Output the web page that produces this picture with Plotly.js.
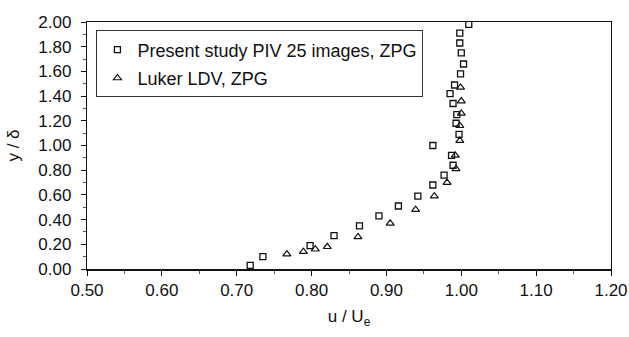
<!DOCTYPE html>
<html>
<head>
<meta charset="utf-8">
<script src="https://cdn.plot.ly/plotly-3.0.1.min.js"></script>
<style>html,body{margin:0;padding:0;background:#fff}#chart{width:629px;height:337px}</style>
</head>
<body>
<div id="chart"></div>
<script>
// Present study PIV 25 images, ZPG
const pivU = [0.718, 0.735, 0.798, 0.830, 0.864, 0.890, 0.916, 0.942, 0.962, 0.977, 0.989, 0.987, 0.962, 0.997, 0.993, 0.994, 0.989, 0.985, 0.991, 0.999, 1.003, 1.000, 0.998, 0.998, 1.010];
const pivY = [0.03, 0.10, 0.19, 0.27, 0.35, 0.43, 0.51, 0.59, 0.68, 0.76, 0.84, 0.92, 1.00, 1.09, 1.18, 1.25, 1.34, 1.42, 1.49, 1.58, 1.66, 1.75, 1.83, 1.91, 1.98];
// Luker LDV, ZPG
const lukerU = [0.767, 0.789, 0.805, 0.821, 0.862, 0.905, 0.939, 0.964, 0.981, 0.993, 0.992, 0.998, 0.998, 1.000, 1.000, 0.999];
const lukerY = [0.12, 0.14, 0.16, 0.18, 0.26, 0.37, 0.48, 0.59, 0.70, 0.81, 0.92, 1.04, 1.16, 1.26, 1.36, 1.47];

const seriesNames = ['Present study PIV 25 images, ZPG', 'Luker LDV, ZPG'];
const xTickVals = [0.5, 0.6, 0.7, 0.8, 0.9, 1.0, 1.1, 1.2];
const yTickVals = [0, 0.2, 0.4, 0.6, 0.8, 1.0, 1.2, 1.4, 1.6, 1.8, 2.0];

const font = 'Liberation Sans, Arial, sans-serif';

const traces = [
  {
    x: pivU, y: pivY, name: seriesNames[0], type: 'scatter', mode: 'markers',
    legendgroup: 'a',
    marker: {symbol: 'square-open', size: 6, color: '#111', line: {width: 1.3, color: '#111'}}
  },
  {
    x: lukerU, y: lukerY, name: seriesNames[1], type: 'scatter', mode: 'markers',
    legendgroup: 'b',
    marker: {symbol: 'triangle-up-open', size: 7, color: '#111', line: {width: 1.2, color: '#111'}}
  }
];

const layout = {
  width: 629, height: 337,
  margin: {l: 87, r: 18, t: 22, b: 68},
  paper_bgcolor: '#fff', plot_bgcolor: '#fff',
  font: {family: font, color: '#111', size: 17},
  showlegend: true,
  legend: {
    x: 0.018, y: 0.966, xanchor: 'left', yanchor: 'top',
    bordercolor: '#333', borderwidth: 1, bgcolor: 'rgba(255,255,255,0)',
    font: {family: font, size: 18, color: '#111'},
    tracegroupgap: 2, itemwidth: 30
  },
  xaxis: {
    range: [0.5, 1.2], tickvals: xTickVals, ticktext: xTickVals.map(v => v.toFixed(2)),
    showgrid: false, zeroline: false,
    showline: true, mirror: true, linecolor: '#111', linewidth: 1.5,
    ticks: 'outside', ticklen: 5, tickcolor: '#111', tickwidth: 1,
    minor: {dtick: 0.05, tick0: 0.5, ticks: 'outside', ticklen: 3, tickcolor: '#555', showgrid: false},
    tickfont: {size: 17, family: font},
    title: {text: 'u / U<sub>e</sub>', font: {size: 17, family: font}, standoff: 11}
  },
  yaxis: {
    range: [0, 2.0], tickvals: yTickVals, ticktext: yTickVals.map(v => v.toFixed(2)),
    showgrid: false, zeroline: false,
    showline: true, mirror: true, linecolor: '#111', linewidth: 1.2,
    ticks: 'outside', ticklen: 5, tickcolor: '#111', tickwidth: 1,
    ticklabelstandoff: 6,
    minor: {dtick: 0.1, tick0: 0, ticks: 'outside', ticklen: 3, tickcolor: '#555', showgrid: false},
    tickfont: {size: 17, family: font},
    title: {text: 'y / δ', font: {size: 17, family: font}, standoff: 14}
  }
};

Plotly.newPlot('chart', traces, layout, {displayModeBar: false, staticPlot: true});
</script>
</body>
</html>
